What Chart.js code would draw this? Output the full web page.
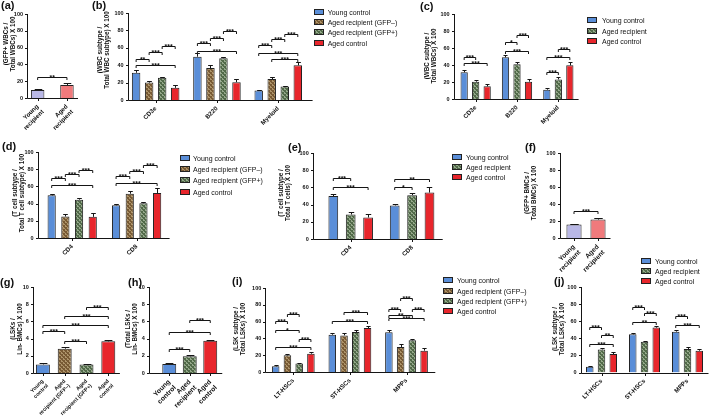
<!DOCTYPE html>
<html><head><meta charset="utf-8">
<script src="https://cdn.jsdelivr.net/npm/chart.js@4.4.1/dist/chart.umd.min.js"></script>
<style>
body{margin:0;width:709px;height:419px;position:relative;background:#fff;overflow:hidden;font-family:"Liberation Sans",Arial,sans-serif;color:#111}
canvas{position:absolute}
.pl{position:absolute;font:bold 11px/1 "Liberation Sans",Arial,sans-serif;transform:translateY(-50%);white-space:nowrap}
.yt{position:absolute;transform:translate(-50%,-50%) rotate(-90deg);white-space:nowrap;text-align:center;font:bold 6.3px/6.8px "Liberation Sans",Arial,sans-serif}
.sw{position:absolute;width:8px;height:4px;border:1px solid #222}
.lt{position:absolute;transform:translateY(-50%);font:7px/1 "Liberation Sans",Arial,sans-serif;white-space:nowrap}
</style></head><body>
<script>
// ---------------- DATA ----------------
// (a)
const A_CATS = [['Young','recipient'],['Aged','recipient']];
const A_VALS = [9.5, 15.5];
const A_ERR  = [1.2, 2.0];
const A_SIG  = [[0,0,1,0,24.5,'**']];
// (b)
const B_CATS = ['CD3e','B220','Myeloid'];
const B_YOUNG = [31.3, 49.8, 10.8], B_YOUNG_ERR = [2.7, 4.0, 1.2];
const B_GFPN  = [20.0, 36.7, 24.0], B_GFPN_ERR  = [2.3, 3.0, 2.0];
const B_GFPP  = [25.5, 48.0, 15.4], B_GFPP_ERR  = [1.0, 1.5, 0.8];
const B_CTRL  = [14.0, 20.5, 39.8], B_CTRL_ERR  = [2.7, 4.0, 3.5];
const B_SIG = [[0,0,0,1,46.7,'**'],[0,1,0,2,54.8,'***'],[0,2,0,3,61.8,'***'],[0,0,0,3,39.8,'***'],
               [1,0,1,1,65.3,'***'],[1,1,1,2,71.8,'***'],[1,2,1,3,78.8,'***'],[1,0,1,3,56.4,'***'],
               [2,0,2,1,63.3,'***'],[2,1,2,2,69.9,'***'],[2,2,2,3,76.4,'***'],[2,0,2,3,54.4,'***'],[2,1,2,3,47.5,'***']];
// (c)
const C_CATS = ['CD3e','B220','Myeloid'];
const C_YOUNG = [31.4, 49.0, 11.0], C_YOUNG_ERR = [2.7, 2.7, 1.5];
const C_AGED  = [20.4, 41.0, 23.0], C_AGED_ERR  = [1.6, 2.0, 2.3];
const C_CTRL  = [14.9, 20.4, 39.6], C_CTRL_ERR  = [2.4, 3.5, 3.5];
const C_SIG = [[0,0,0,1,49,'***'],[0,0,0,2,42,'***'],
               [1,0,1,1,67.5,'*'],[1,1,1,2,75.7,'***'],[1,0,1,2,57,'***'],
               [2,0,2,1,31.8,'***'],[2,0,2,2,49,'***'],[2,1,2,2,59,'***']];
// (d)
const D_CATS = ['CD4','CD8'];
const D_YOUNG = [49.6, 38.0], D_YOUNG_ERR = [2.0, 1.0];
const D_GFPN  = [25.0, 51.5], D_GFPN_ERR  = [3.0, 3.5];
const D_GFPP  = [44.6, 40.4], D_GFPP_ERR  = [1.5, 1.5];
const D_CTRL  = [24.6, 52.3], D_CTRL_ERR  = [4.6, 6.0];
const D_SIG = [[0,0,0,1,69.2,'***'],[0,1,0,2,74.2,'***'],[0,2,0,3,79.6,'***'],[0,0,0,3,61.5,'***'],
               [1,0,1,1,72.3,'***'],[1,1,1,2,78,'***'],[1,2,1,3,84.6,'***'],[1,0,1,3,64.2,'***']];
// (e)
const E_CATS = ['CD4','CD8'];
const E_YOUNG = [50.0, 39.0], E_YOUNG_ERR = [2.0, 1.2];
const E_AGED  = [28.5, 51.0], E_AGED_ERR  = [2.7, 3.0];
const E_CTRL  = [25.0, 54.0], E_CTRL_ERR  = [4.0, 6.0];
const E_SIG = [[0,0,0,1,70.7,'***'],[0,0,0,2,60,'***'],[1,0,1,1,61,'*'],[1,0,1,2,70,'**']];
// (f)
const F_CATS = [['Young','recipient'],['Aged','recipient']];
const F_VALS = [15.8, 21.7];
const F_ERR  = [0.8, 1.5];
const F_SIG  = [[0,0,1,0,31.6,'***']];
// (g)
const G_CATS = [['Young','control'],['Aged','recipient (GFP–)'],['Aged','recipient (GFP+)'],['Aged','control']];
const G_VALS = [1.0, 2.83, 1.0, 3.68];
const G_ERR  = [0.15, 0.2, 0.1, 0.2];
const G_SIG  = [[0,0,1,0,4.92,'***'],[1,0,2,0,3.68,'***'],[0,0,3,0,5.58,'***'],[1,0,3,0,6.63,'***'],[2,0,3,0,7.67,'***']];
// (h)
const H_CATS = [['Young','control'],['Aged','recipient'],['Aged','control']];
const H_VALS = [1.05, 1.94, 3.76];
const H_ERR  = [0.12, 0.2, 0.12];
const H_SIG  = [[0,0,1,0,2.83,'***'],[0,0,2,0,4.77,'***'],[1,0,2,0,6.12,'***']];
// (i)
const I_CATS = ['LT-HSCs','ST-HSCs','MPPs'];
const I_YOUNG = [6.7, 44.4, 47.2], I_YOUNG_ERR = [1.2, 2.0, 2.4];
const I_GFPN  = [19.8, 43.6, 29.8], I_GFPN_ERR  = [2.0, 2.4, 3.6];
const I_GFPP  = [10.0, 47.6, 37.7], I_GFPP_ERR  = [1.2, 2.0, 1.6];
const I_CTRL  = [21.8, 52.4, 25.4], I_CTRL_ERR  = [2.4, 2.0, 2.8];
const I_SIG = [[0,0,0,1,60.7,'***'],[0,1,0,2,68.6,'***'],[0,0,0,2,49.6,'*'],[0,2,0,3,39.3,'***'],[0,0,0,3,29.8,'***'],
               [1,0,1,3,60.7,'***'],[1,1,1,3,72,'***'],
               [2,0,2,1,75,'***'],[2,1,2,2,88,'***'],[2,0,2,2,68.3,'**'],[2,2,2,3,75,'***'],[2,0,2,3,64.3,'***']];
// (j)
const J_CATS = ['LT-HSCs','ST-HSCs','MPPs'];
const J_YOUNG = [6.7, 44.7, 47.8], J_YOUNG_ERR = [1.0, 2.0, 2.4];
const J_AGED  = [27.0, 36.0, 27.5], J_AGED_ERR  = [2.0, 1.0, 2.7];
const J_CTRL  = [21.6, 52.5, 25.5], J_CTRL_ERR  = [2.4, 1.6, 2.4];
const J_SIG = [[0,0,0,1,53.7,'***'],[0,1,0,2,44,'**'],[0,0,0,2,33,'***'],
               [1,0,1,1,76.5,'***'],[1,1,1,2,69.4,'***'],[1,0,1,2,58.8,'**'],
               [2,0,2,1,65.5,'***'],[2,0,2,2,55.7,'***']];

const LEG4 = ['Young control','Aged recipient (GFP–)','Aged recipient (GFP+)','Aged control'];
const LEG3 = ['Young control','Aged recipient','Aged control'];

// ---------------- STYLE ----------------
Chart.defaults.font.family = '"Liberation Sans", Arial, sans-serif';
const BLUE = '#5a8ed8', RED = '#e8262c', LAV = '#b9b8e6', PINK = '#f07a7c';
function hatch(base, light){
  const c = document.createElement('canvas'); c.width = 4; c.height = 4;
  const g = c.getContext('2d'); g.fillStyle = base; g.fillRect(0,0,4,4);
  g.fillStyle = light;
  [[0,0],[1,1],[2,2],[3,3],[3,0],[1,2]].forEach(p=>g.fillRect(p[0],p[1],1,1));
  return c;
}
const brownC = hatch('#785a34', '#ad946a');
const greenC = hatch('#516a49', '#95a88b');
const tmpCtx = document.createElement('canvas').getContext('2d');
const BROWN = tmpCtx.createPattern(brownC, 'repeat');
const GREEN = tmpCtx.createPattern(greenC, 'repeat');
const BROWN_CSS = 'url(' + brownC.toDataURL() + ')';
const GREEN_CSS = 'url(' + greenC.toDataURL() + ')';

const gpPlugin = {
  id: 'gp',
  afterDatasetsDraw(chart) {
    const o = chart.options.plugins.gp; if (!o) return;
    const ctx = chart.ctx, ca = chart.chartArea, ys = chart.scales.y, xs = chart.scales.x;
    ctx.save();
    ctx.strokeStyle = '#151515'; ctx.fillStyle = '#151515'; ctx.lineWidth = 1;
    chart.data.datasets.forEach((d, di) => {
      const meta = chart.getDatasetMeta(di);
      meta.data.forEach((el, i) => {
        const x = Math.round(el.x) + 0.5;
        const yE = Math.round(ys.getPixelForValue(d.data[i] + d.err[i])) + 0.5;
        const hw = el.width * 0.28;
        ctx.beginPath(); ctx.moveTo(x, el.y); ctx.lineTo(x, yE);
        ctx.moveTo(x - hw, yE); ctx.lineTo(x + hw, yE); ctx.stroke();
      });
    });
    const ax = Math.round(ca.left + o.dx) + 0.5, axE = ca.left + o.dxe;
    const yb = Math.round(ca.bottom) + 0.5;
    ctx.beginPath();
    ctx.moveTo(ax, Math.round(ca.top)); ctx.lineTo(ax, yb); ctx.lineTo(axE, yb);
    ys.ticks.forEach(t => { const y = Math.round(ys.getPixelForValue(t.value)) + 0.5; ctx.moveTo(ax - 2.5, y); ctx.lineTo(ax, y); });
    chart.data.labels.forEach((l, i) => { const x = Math.round(xs.getPixelForValue(i)) + 0.5; ctx.moveTo(x, yb); ctx.lineTo(x, yb + 2.5); });
    ctx.stroke();
    ctx.font = 'bold 7px "Liberation Sans", Arial, sans-serif';
    ctx.textAlign = 'center'; ctx.textBaseline = 'alphabetic';
    o.sig.forEach(s => {
      const x1 = chart.getDatasetMeta(s[1]).data[s[0]].x, x2 = chart.getDatasetMeta(s[3]).data[s[2]].x;
      const y = Math.round(ys.getPixelForValue(s[4])) + 0.5;
      ctx.beginPath(); ctx.moveTo(x1, y + 2.5); ctx.lineTo(x1, y); ctx.lineTo(x2, y); ctx.lineTo(x2, y + 2.5); ctx.stroke();
      ctx.fillText(s[5], (x1 + x2) / 2, y + 2.2);
    });
    ctx.restore();
  }
};

function ds(data, err, color, cp, bp){
  return {data, err, backgroundColor: color, borderColor: '#222', borderWidth: 1, categoryPercentage: cp, barPercentage: bp};
}

function panel(g, labels, datasets, sig, max, step){
  const YW = 30, PT = 6, PR = 6, XH = 55;
  const cw = g.cr - g.cl, ch = g.y0 - g.yTop;
  const cv = document.createElement('canvas');
  cv.width = Math.round(YW + cw + PR); cv.height = Math.round(PT + ch + XH);
  cv.style.left = (g.cl - YW) + 'px'; cv.style.top = (g.yTop - PT) + 'px';
  document.body.appendChild(cv);
  new Chart(cv, {
    type: 'bar',
    data: {labels, datasets},
    options: {
      responsive: false, animation: false, devicePixelRatio: 1,
      layout: {padding: {top: PT, right: cv.width - YW - cw, left: 0, bottom: cv.height - PT - ch - XH}},
      plugins: {legend: {display: false}, tooltip: {enabled: false},
        gp: {dx: g.ax - g.cl, dxe: g.axE - g.cl, sig}},
      scales: {
        x: {grid: {display: false, drawTicks: false}, border: {display: false},
            ticks: {font: {size: g.xf || 6.2, weight: 'bold'}, color: '#111', padding: 5, minRotation: 45, maxRotation: 45, autoSkip: false},
            afterFit: s => { s.height = XH; s.paddingLeft = 0; s.paddingRight = 0; }},
        y: {min: 0, max, grid: {display: false, drawTicks: false}, border: {display: false},
            ticks: {stepSize: step, font: {size: 5.5, weight: 'bold'}, color: '#111', padding: g.cl - g.ax + 4},
            afterFit: s => { s.width = YW; s.paddingTop = 0; s.paddingBottom = 0; }}
      }
    },
    plugins: [gpPlugin]
  });
}

function label(t, x, y){ const d = document.createElement('div'); d.className = 'pl'; d.textContent = t; d.style.left = x + 'px'; d.style.top = y + 'px'; document.body.appendChild(d); }
function ytitle(lines, cx, cy){ const d = document.createElement('div'); d.className = 'yt'; d.innerHTML = lines.join('<br>'); d.style.left = cx + 'px'; d.style.top = cy + 'px'; document.body.appendChild(d); }
function legend(names, fills, sx, tx, rows){
  names.forEach((n, i) => {
    const s = document.createElement('div'); s.className = 'sw';
    s.style.left = sx + 'px'; s.style.top = (rows[i] - 3) + 'px'; s.style.background = fills[i];
    document.body.appendChild(s);
    const t = document.createElement('div'); t.className = 'lt'; t.textContent = n;
    t.style.left = tx + 'px'; t.style.top = rows[i] + 'px'; document.body.appendChild(t);
  });
}

// ---------------- PANELS ----------------
panel({ax:27, axE:78, yTop:14, y0:98, cl:23, cr:81.6}, A_CATS,
  [{data: A_VALS, err: A_ERR, backgroundColor: [LAV, PINK], borderColor: '#222', borderWidth: 1, categoryPercentage: 1, barPercentage: 0.46}], A_SIG, 100, 20);
panel({ax:128, axE:313, yTop:13, y0:100, cl:125.4, cr:309.3}, B_CATS,
  [ds(B_YOUNG,B_YOUNG_ERR,BLUE,.85,.65), ds(B_GFPN,B_GFPN_ERR,BROWN,.85,.65), ds(B_GFPP,B_GFPP_ERR,GREEN,.85,.65), ds(B_CTRL,B_CTRL_ERR,RED,.85,.65)], B_SIG, 100, 20);
panel({ax:454, axE:579, yTop:14, y0:99, cl:455.4, cr:579.4}, C_CATS,
  [ds(C_YOUNG,C_YOUNG_ERR,BLUE,.835,.63), ds(C_AGED,C_AGED_ERR,GREEN,.835,.63), ds(C_CTRL,C_CTRL_ERR,RED,.835,.63)], C_SIG, 100, 20);
panel({ax:38, axE:170, yTop:152, y0:238, cl:40.4, cr:169.2}, D_CATS,
  [ds(D_YOUNG,D_YOUNG_ERR,BLUE,.85,.6), ds(D_GFPN,D_GFPN_ERR,BROWN,.85,.6), ds(D_GFPP,D_GFPP_ERR,GREEN,.85,.6), ds(D_CTRL,D_CTRL_ERR,RED,.85,.6)], D_SIG, 100, 20);
panel({ax:313, axE:443, yTop:153, y0:239, cl:320.3, cr:443.1}, E_CATS,
  [ds(E_YOUNG,E_YOUNG_ERR,BLUE,.85,.56), ds(E_AGED,E_AGED_ERR,GREEN,.85,.56), ds(E_CTRL,E_CTRL_ERR,RED,.85,.56)], E_SIG, 100, 20);
panel({ax:559, axE:610, yTop:153, y0:238, cl:561.5, cr:609.5, xf:6.6}, F_CATS,
  [{data: F_VALS, err: F_ERR, backgroundColor: [LAV, PINK], borderColor: '#222', borderWidth: 1, categoryPercentage: 1, barPercentage: 0.63}], F_SIG, 100, 20);
panel({ax:33, axE:120, yTop:287, y0:373, cl:32.1, cr:119.3, xf:5.4}, G_CATS,
  [{data: G_VALS, err: G_ERR, backgroundColor: [BLUE, BROWN, GREEN, RED], borderColor: '#222', borderWidth: 1, categoryPercentage: 1, barPercentage: 0.64}], G_SIG, 10, 2);
panel({ax:148.5, axE:222, yTop:287, y0:373, cl:158.75, cr:220.25, xf:6.8}, H_CATS,
  [{data: H_VALS, err: H_ERR, backgroundColor: [BLUE, GREEN, RED], borderColor: '#222', borderWidth: 1, categoryPercentage: 1, barPercentage: 0.68}], H_SIG, 10, 2);
panel({ax:265, axE:435, yTop:288, y0:372, cl:264.7, cr:434.5}, I_CATS,
  [ds(I_YOUNG,I_YOUNG_ERR,BLUE,.83,.64), ds(I_GFPN,I_GFPN_ERR,BROWN,.83,.64), ds(I_GFPP,I_GFPP_ERR,GREEN,.83,.64), ds(I_CTRL,I_CTRL_ERR,RED,.83,.64)], I_SIG, 100, 20);
panel({ax:580, axE:708, yTop:287, y0:372.5, cl:579.5, cr:708.5}, J_CATS,
  [ds(J_YOUNG,J_YOUNG_ERR,BLUE,.82,.64), ds(J_AGED,J_AGED_ERR,GREEN,.82,.64), ds(J_CTRL,J_CTRL_ERR,RED,.82,.64)], J_SIG, 100, 20);

// panel letters
label('(a)', 1, 5); label('(b)', 92, 5); label('(c)', 420, 6); label('(d)', 2, 146); label('(e)', 288, 147);
label('(f)', 525, 147); label('(g)', 0, 282); label('(h)', 128, 282); label('(i)', 232, 281); label('(j)', 554, 281);

// y titles
ytitle(['(GFP+ WBCs /','Total WBCs) X 100'], 10, 44);
ytitle(['(WBC subtype /','Total WBC subtype) X 100'], 104, 50);
ytitle(['(WBC subtype /','Total WBCs) X 100'], 431, 56);
ytitle(['(T cell subtype /','Total T cell subtype) X 100'], 18.5, 193);
ytitle(['(T cell subtype /','Total T cells) X 100'], 285, 193);
ytitle(['(GFP+ BMCs /','Total BMCs) X 100'], 531, 193);
ytitle(['(LSKs /','Lin- BMCs) X 100'], 16.5, 329);
ytitle(['(Total LSKs /','Lin- BMCs) X 100'], 131.5, 329);
ytitle(['(LSK subtype /','Total LSKs) X 100'], 240, 329);
ytitle(['(LSK subtype /','Total LSKs) X 100'], 559, 329);

// legends
const F4 = [BLUE, BROWN_CSS, GREEN_CSS, RED], F3 = [BLUE, GREEN_CSS, RED];
legend(LEG4, F4, 314, 327.7, [12, 22.3, 32.3, 42.7]);
legend(LEG3, F3, 587, 602, [20.3, 31, 41]);
legend(LEG4, F4, 180, 193, [157.7, 168.7, 180, 191.7]);
legend(LEG3, F3, 452, 466, [156.7, 167.3, 177]);
legend(LEG4, F4, 443, 457, [280, 290.7, 300.7, 310.7]);
legend(LEG3, F3, 641, 655, [261, 271, 281]);
</script>
</body></html>
